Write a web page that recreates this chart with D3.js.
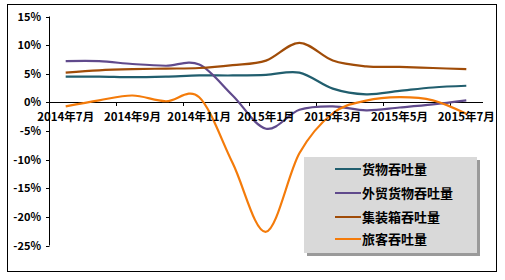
<!DOCTYPE html>
<html>
<head>
<meta charset="utf-8">
<script src="https://cdn.jsdelivr.net/npm/d3@7"></script>
<style>
  body { margin: 0; background: #fff; }
  text { font-family: "Noto Sans CJK SC", sans-serif; font-weight: bold; fill: #000; }
</style>
</head>
<body>
<div id="chart"></div>
<script>
const months = ['2014年7月', '2014年8月', '2014年9月', '2014年10月', '2014年11月', '2014年12月',
    '2015年1月', '2015年2月', '2015年3月', '2015年4月', '2015年5月', '2015年6月', '2015年7月'];
const yTicks = [15, 10, 5, 0, -5, -10, -15, -20, -25];

const cargo = [4.5, 4.5, 4.4, 4.5, 4.7, 4.7, 4.8, 5.2, 2.4, 1.4, 2.0, 2.6, 2.9];
const foreignCargo = [7.2, 7.2, 6.7, 6.4, 6.6, 1.2, -4.6, -1.3, -0.7, -1.4, -0.9, -0.35, 0.35];
const container = [5.2, 5.6, 5.8, 5.9, 6.0, 6.5, 7.3, 10.4, 7.3, 6.3, 6.2, 6.0, 5.8];
const passenger = [-0.7, 0.35, 1.2, 0.2, 0.9, -10.6, -22.6, -8.9, -1.9, 0.3, 0.9, 0.35, -2.0];

const seriesNames = ['货物吞吐量', '外贸货物吞吐量', '集装箱吞吐量', '旅客吞吐量'];
const seriesColors = ['#215e6e', '#604a8c', '#a04c08', '#f47b0a'];
const series = [cargo, foreignCargo, container, passenger];

const width = 505, height = 280;
const svg = d3.select('#chart').append('svg')
    .attr('width', width)
    .attr('height', height);

// outer frame
svg.append('rect')
    .attr('x', 7.5).attr('y', 4.5)
    .attr('width', 489).attr('height', 267)
    .attr('fill', '#fff').attr('stroke', '#000');

const x = d3.scaleBand().domain(months).range([49, 483]);
const y = d3.scaleLinear().domain([-25, 15]).range([245.5, 16.5]);

// y axis
svg.append('line')
    .attr('x1', 49.5).attr('x2', 49.5)
    .attr('y1', y(15)).attr('y2', y(-25))
    .attr('stroke', '#000');
svg.append('g').selectAll('line')
    .data(yTicks).enter().append('line')
    .attr('x1', 46).attr('x2', 49.5)
    .attr('y1', d => Math.round(y(d)) + 0.5)
    .attr('y2', d => Math.round(y(d)) + 0.5)
    .attr('stroke', '#000');
svg.append('g').selectAll('text')
    .data(yTicks).enter().append('text')
    .attr('x', 41)
    .attr('y', d => y(d) + 4)
    .attr('text-anchor', 'end')
    .style('font-size', '11px')
    .text(d => d + '%');

// x axis at 0
svg.append('line')
    .attr('x1', 49).attr('x2', 483)
    .attr('y1', Math.round(y(0)) + 0.5).attr('y2', Math.round(y(0)) + 0.5)
    .attr('stroke', '#000');
const labelled = months.filter((d, i) => i % 2 === 0);
svg.append('g').selectAll('line')
    .data(labelled).enter().append('line')
    .attr('x1', d => Math.round(x(d)) + 0.5)
    .attr('x2', d => Math.round(x(d)) + 0.5)
    .attr('y1', Math.round(y(0)) + 0.5)
    .attr('y2', Math.round(y(0)) + 4)
    .attr('stroke', '#000');

// lines
const line = d3.line()
    .x((d, i) => x(months[i]) + x.bandwidth() / 2)
    .y(d => y(d))
    .curve(d3.curveCatmullRom.alpha(0));

svg.append('g').selectAll('path')
    .data(series).enter().append('path')
    .attr('d', d => line(d))
    .attr('fill', 'none')
    .attr('stroke', (d, i) => seriesColors[i])
    .attr('stroke-width', 2.2);

// x labels (drawn over the lines)
svg.append('g').selectAll('text')
    .data(labelled).enter().append('text')
    .attr('x', d => x(d) + x.bandwidth() / 2)
    .attr('y', 121)
    .attr('text-anchor', 'middle')
    .style('font-size', '11.5px')
    .text(d => d);

// legend
const lg = svg.append('g').attr('transform', 'translate(304,157)');
lg.append('rect')
    .attr('x', 3).attr('y', 3)
    .attr('width', 173).attr('height', 96)
    .attr('fill', '#9a9a9a');
lg.append('rect')
    .attr('width', 173).attr('height', 96)
    .attr('fill', '#d9d9d9');
const items = lg.selectAll('g.item')
    .data(seriesNames).enter().append('g')
    .attr('transform', (d, i) => 'translate(0,' + [12, 36, 60, 82][i] + ')');
items.append('line')
    .attr('x1', 31).attr('x2', 57)
    .attr('y1', 0).attr('y2', 0)
    .attr('stroke', (d, i) => seriesColors[i])
    .attr('stroke-width', 2);
items.append('text')
    .attr('x', 58)
    .attr('y', 5)
    .style('font-size', '13px')
    .text(d => d);
</script>
</body>
</html>
